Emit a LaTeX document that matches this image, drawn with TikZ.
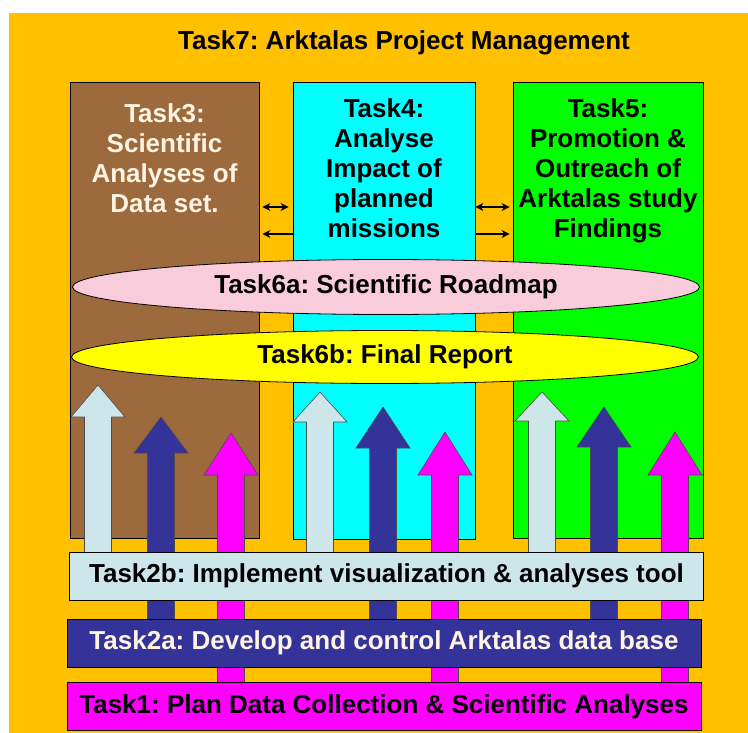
\documentclass[tikz,border=0pt]{standalone}
\usepackage{fontspec}
\setmainfont{Liberation Sans}
\usetikzlibrary{fit,shapes.geometric,arrows.meta}
\definecolor{bgorange}{HTML}{FFC000}
\definecolor{taskbrown}{HTML}{9C6A3C}
\definecolor{taskcyan}{HTML}{00FFFF}
\definecolor{taskgreen}{HTML}{00FF00}
\definecolor{taskpink}{HTML}{F8CCDA}
\definecolor{taskyellow}{HTML}{FFFF00}
\definecolor{tasklight}{HTML}{CCE6EA}
\definecolor{taskblue}{HTML}{333399}
\definecolor{taskmagenta}{HTML}{FF00FF}
\definecolor{taskcream}{HTML}{FFF4E4}
\tikzset{
  box/.style={draw=black, line width=0.8pt, inner sep=0pt},
  lbl/.style={font=\fontsize{26}{30}\selectfont\bfseries\frenchspacing, align=center},
  bar/.style={box, lbl, minimum width=634pt, minimum height=48pt},
  oval/.style={ellipse, draw=black, line width=0.8pt, minimum width=627pt, minimum height=55pt, inner sep=0pt},
  link/.style={line width=1.5pt, -{Stealth[length=8pt,width=8pt]}},
  both/.style={line width=1.5pt, {Stealth[length=8pt,width=8pt]}-{Stealth[length=8pt,width=8pt]}},
}
% block arrow: x, tip, head base, foot, colour
\newcommand{\taskarrow}[5]{%
  \draw[fill=#5, draw=black!70, line width=0.6pt]
    (#1-13.5,#4) -- (#1-13.5,#3) -- (#1-27,#3) -- (#1,#2) -- (#1+27,#3) -- (#1+13.5,#3) -- (#1+13.5,#4) -- cycle;
}
\begin{document}
\begin{tikzpicture}[x=1pt, y=-1pt]
\useasboundingbox (0,0) rectangle (748,733);
% Background
\fill[white] (0,0) rectangle (748,733);
\fill[bgorange] (9,13) rectangle (748,733);
\node[lbl] (t7) at (404,43) {Task7: Arktalas Project Management};

% Columns
\node[box, fill=taskbrown, fit={(70,82) (259,538)}] (t3) {};
\node[box, fill=taskcyan, fit={(293,82) (475,539)}] (t4) {};
\node[box, fill=taskgreen, fit={(513,82) (703,538)}] (t5) {};
\node[lbl, text=taskcream, anchor=north, inner sep=0pt] (t3txt) at (t3.north |- 0,103) {Task3:\\Scientific\\Analyses of\\Data set.};
\node[lbl, anchor=north, inner sep=0pt] (t4txt) at (t4.north |- 0,98) {Task4:\\Analyse\\Impact of\\planned\\missions};
\node[lbl, anchor=north, inner sep=0pt] (t5txt) at (t5.north |- 0,98) {Task5:\\Promotion \&\\Outreach of\\Arktalas study\\Findings};

% Links between columns
\draw[both] ([xshift=3pt]t3.east |- 0,207) -- ([xshift=-4pt]t4.west |- 0,207);
\draw[link] (t4.west |- 0,234) -- ([xshift=3pt]t3.east |- 0,234);
\draw[both] (t4.east |- 0,207) -- ([xshift=-3pt]t5.west |- 0,207);
\draw[link] (t4.east |- 0,234) -- ([xshift=-3pt]t5.west |- 0,234);

% Roadmap and report
\node[oval, fill=taskpink, lbl] (t6a) at (386,287) {Task6a: Scientific Roadmap};
\node[oval, fill=taskyellow, lbl, minimum height=53pt] (t6b) at (385,357) {Task6b: Final Report};

% Arrows from the base tasks
\taskarrow{98}{385}{417}{560}{tasklight}
\taskarrow{161}{417}{453}{625}{taskblue}
\taskarrow{231}{433}{475}{690}{taskmagenta}
\taskarrow{320}{392}{422}{560}{tasklight}
\taskarrow{383}{407}{448}{625}{taskblue}
\taskarrow{445}{432}{475}{690}{taskmagenta}
\taskarrow{542}{392}{421}{560}{tasklight}
\taskarrow{604}{407}{447}{625}{taskblue}
\taskarrow{675}{432}{475}{690}{taskmagenta}

% Base tasks
\node[bar, fill=tasklight] (t2b) at (386.5,576) {Task2b: Implement visualization \& analyses tool};
\node[bar, fill=taskblue, text=taskcream] (t2a) at (384,643) {Task2a: Develop and control Arktalas data base};
\node[bar, fill=taskmagenta] (t1) at (384,706.5) {Task1: Plan Data Collection \& Scientific Analyses};
\end{tikzpicture}
\end{document}
